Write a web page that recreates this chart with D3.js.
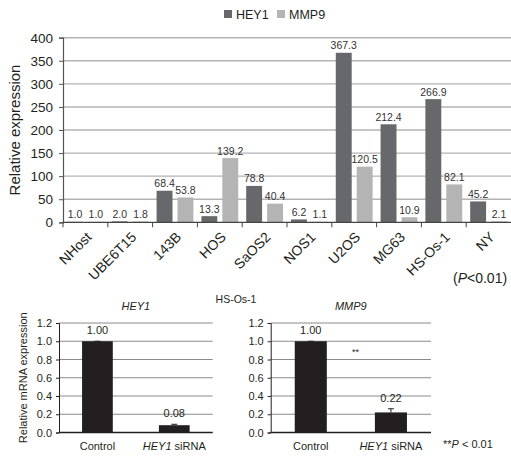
<!DOCTYPE html>
<html>
<head>
<meta charset="utf-8">
<script src="https://cdn.jsdelivr.net/npm/d3@7/dist/d3.min.js"></script>
<style>
  html, body { margin: 0; padding: 0; background: #fff; }
  svg { display: block; font-family: "Liberation Sans", Arial, Helvetica, sans-serif; }
</style>
</head>
<body>
<svg id="fig" width="511" height="456"></svg>
<script>
// ---- Panel A: expression across cell lines ----
const cellLines = ["NHost", "UBE6T15", "143B", "HOS", "SaOS2", "NOS1", "U2OS", "MG63", "HS-Os-1", "NY"];
const seriesNames = ["HEY1", "MMP9"];
const hey1Values = [1.0, 2.0, 68.4, 13.3, 78.8, 6.2, 367.3, 212.4, 266.9, 45.2];
const mmp9Values = [1.0, 1.8, 53.8, 139.2, 40.4, 1.1, 120.5, 10.9, 82.1, 2.1];
const seriesColors = ["#66686b", "#b4b4b4"];
const yTicksA = [0, 50, 100, 150, 200, 250, 300, 350, 400];

// ---- Panel B: knockdown in HS-Os-1 ----
const groups = ["Control", "siRNA"];
const hey1Knockdown = [1.00, 0.08];
const hey1KnockdownErr = [0.0, 0.01];
const mmp9Knockdown = [1.00, 0.22];
const mmp9KnockdownErr = [0.0, 0.04];
const yTicksB = [0.0, 0.2, 0.4, 0.6, 0.8, 1.0, 1.2];

const svg = d3.select("#fig");
const ink = "#231f20";

// ================= Panel A =================
const A = { left: 63, right: 511, top: 37.7, bottom: 222.3 };
const xA = d3.scaleBand().domain(cellLines).range([A.left, A.right]).padding(0);
const xSub = d3.scaleBand().domain(seriesNames).range([0, xA.bandwidth()])
  .paddingInner(0.24).paddingOuter(0.19);
const yA = d3.scaleLinear().domain([0, 400]).range([A.bottom, A.top]);

// grid lines
svg.append("g").selectAll("line").data(yTicksA.slice(1)).join("line")
  .attr("x1", A.left).attr("x2", A.right)
  .attr("y1", d => yA(d)).attr("y2", d => yA(d))
  .attr("stroke", "#b3b3b3").attr("stroke-width", 1.4);

// y axis
const yAxisA = svg.append("g").attr("transform", `translate(${A.left},0)`)
  .call(d3.axisLeft(yA).tickValues(yTicksA).tickSize(4).tickPadding(6).tickFormat(d3.format("d")));
yAxisA.select(".domain").attr("stroke", "#555").attr("stroke-width", 1.2);
yAxisA.selectAll(".tick line").attr("stroke", "#555");
yAxisA.selectAll("text").attr("font-size", 13.5).attr("fill", ink)
  .attr("font-family", "'Liberation Sans', Arial, sans-serif");

svg.append("text")
  .attr("transform", `translate(20,${(A.top + A.bottom) / 2}) rotate(-90)`)
  .attr("text-anchor", "middle").attr("font-size", 15).attr("fill", ink)
  .text("Relative expression");

// bars
const rowsA = cellLines.map((c, i) => ({ cell: c, vals: [hey1Values[i], mmp9Values[i]] }));
const groupA = svg.append("g").selectAll("g").data(rowsA).join("g")
  .attr("transform", d => `translate(${xA(d.cell)},0)`);
groupA.selectAll("rect").data(d => d.vals.map((v, j) => ({ v, s: seriesNames[j], j }))).join("rect")
  .attr("x", d => xSub(d.s)).attr("width", xSub.bandwidth())
  .attr("y", d => yA(d.v)).attr("height", d => yA(0) - yA(d.v))
  .attr("fill", d => seriesColors[d.j]);
groupA.selectAll("text").data(d => d.vals.map((v, j) => ({ v, s: seriesNames[j] }))).join("text")
  .attr("x", d => xSub(d.s) + xSub.bandwidth() / 2)
  .attr("y", d => yA(d.v) - 3.5)
  .attr("text-anchor", "middle").attr("font-size", 10.5).attr("fill", "#333")
  .text(d => d.v.toFixed(1));

// x axis with boundary ticks
svg.append("line").attr("x1", A.left).attr("x2", A.right)
  .attr("y1", A.bottom).attr("y2", A.bottom).attr("stroke", "#444").attr("stroke-width", 1.3);
svg.append("g").selectAll("line").data(cellLines).join("line")
  .attr("x1", d => xA(d)).attr("x2", d => xA(d))
  .attr("y1", A.bottom).attr("y2", A.bottom + 5)
  .attr("stroke", "#444").attr("stroke-width", 1);

svg.append("g").selectAll("text").data(cellLines).join("text")
  .attr("transform", d => `translate(${xA(d) + xA.bandwidth() / 2 + 7},238) rotate(-45)`)
  .attr("text-anchor", "end").attr("font-size", 14).attr("fill", ink)
  .text(d => d);

// legend
const legend = svg.append("g");
const legendX = [224, 277];
seriesNames.forEach((s, i) => {
  legend.append("rect").attr("x", legendX[i]).attr("y", 10).attr("width", 8).attr("height", 8)
    .attr("fill", seriesColors[i]);
  legend.append("text").attr("x", legendX[i] + 12).attr("y", 18.5)
    .attr("font-size", 12.5).attr("fill", ink).text(s);
});

// significance note
const pNoteA = svg.append("text").attr("x", 453).attr("y", 283).attr("font-size", 14).attr("fill", ink);
pNoteA.append("tspan").text("(");
pNoteA.append("tspan").attr("font-style", "italic").text("P");
pNoteA.append("tspan").text("<0.01)");

// ================= Panel B =================
svg.append("text").attr("x", 236).attr("y", 303).attr("text-anchor", "middle")
  .attr("font-size", 10.5).attr("fill", ink).text("HS-Os-1");

function knockdownPanel(cfg) {
  const g = svg.append("g");
  const x = d3.scaleBand().domain(groups).range([cfg.left, cfg.right])
    .paddingInner(0.6).paddingOuter(0.3);
  const y = d3.scaleLinear().domain([0, 1.2]).range([432.5, 323]);

  g.append("g").selectAll("line").data(yTicksB.slice(1)).join("line")
    .attr("x1", cfg.left).attr("x2", cfg.right)
    .attr("y1", d => y(d)).attr("y2", d => y(d))
    .attr("stroke", "#8a8a8a").attr("stroke-width", 1);

  const ax = g.append("g").attr("transform", `translate(${cfg.left},0)`)
    .call(d3.axisLeft(y).tickValues(yTicksB).tickSize(3).tickPadding(4).tickFormat(d3.format(".1f")));
  ax.select(".domain").attr("stroke", ink).attr("stroke-width", 1);
  ax.selectAll(".tick line").attr("stroke", ink);
  ax.selectAll("text").attr("font-size", 11).attr("fill", ink)
    .attr("font-family", "'Liberation Sans', Arial, sans-serif");

  g.append("line").attr("x1", cfg.left).attr("x2", cfg.right)
    .attr("y1", y(0)).attr("y2", y(0)).attr("stroke", ink).attr("stroke-width", 1.4);

  const rows = groups.map((grp, i) => ({ grp, v: cfg.values[i], e: cfg.errors[i] }));
  g.append("g").selectAll("rect").data(rows).join("rect")
    .attr("x", d => x(d.grp)).attr("width", x.bandwidth())
    .attr("y", d => y(d.v)).attr("height", d => y(0) - y(d.v))
    .attr("fill", ink);

  // error bars
  const eb = g.append("g").selectAll("g").data(rows).join("g");
  eb.append("line")
    .attr("x1", d => x(d.grp) + x.bandwidth() / 2).attr("x2", d => x(d.grp) + x.bandwidth() / 2)
    .attr("y1", d => y(d.v)).attr("y2", d => y(d.v + d.e))
    .attr("stroke", ink).attr("stroke-width", 1);
  eb.append("line")
    .attr("x1", d => x(d.grp) + x.bandwidth() / 2 - 3).attr("x2", d => x(d.grp) + x.bandwidth() / 2 + 3)
    .attr("y1", d => y(d.v + d.e)).attr("y2", d => y(d.v + d.e))
    .attr("stroke", ink).attr("stroke-width", 1);

  g.append("g").selectAll("text").data(rows).join("text")
    .attr("x", d => x(d.grp) + x.bandwidth() / 2)
    .attr("y", d => y(d.v + d.e) - 7)
    .attr("text-anchor", "middle").attr("font-size", 11).attr("fill", ink)
    .text(d => d.v.toFixed(2));

  // category labels
  g.append("text").attr("x", x("Control") + x.bandwidth() / 2).attr("y", 450)
    .attr("text-anchor", "middle").attr("font-size", 11).attr("fill", ink).text("Control");
  const si = g.append("text").attr("x", x("siRNA") + x.bandwidth() / 2).attr("y", 450)
    .attr("text-anchor", "middle").attr("font-size", 11).attr("fill", ink);
  si.append("tspan").attr("font-style", "italic").text("HEY1");
  si.append("tspan").text(" siRNA");

  // title
  g.append("text").attr("x", (cfg.left + cfg.right) / 2 - 0).attr("y", 310)
    .attr("text-anchor", "middle").attr("font-size", 11).attr("font-style", "italic")
    .attr("fill", ink).text(cfg.title);
  return { x, y };
}

knockdownPanel({ left: 59, right: 212.7, values: hey1Knockdown, errors: hey1KnockdownErr, title: "HEY1" });
knockdownPanel({ left: 270.7, right: 431, values: mmp9Knockdown, errors: mmp9KnockdownErr, title: "MMP9" });

svg.append("text")
  .attr("transform", `translate(27,${(323 + 432.5) / 2}) rotate(-90)`)
  .attr("text-anchor", "middle").attr("font-size", 11).attr("fill", ink)
  .text("Relative mRNA expression");

svg.append("text").attr("x", 352).attr("y", 355).attr("font-size", 9).attr("fill", ink).text("**");

const pNoteB = svg.append("text").attr("x", 443).attr("y", 448).attr("font-size", 11).attr("fill", ink);
pNoteB.append("tspan").text("**");
pNoteB.append("tspan").attr("font-style", "italic").text("P");
pNoteB.append("tspan").text(" < 0.01");
</script>
</body>
</html>
